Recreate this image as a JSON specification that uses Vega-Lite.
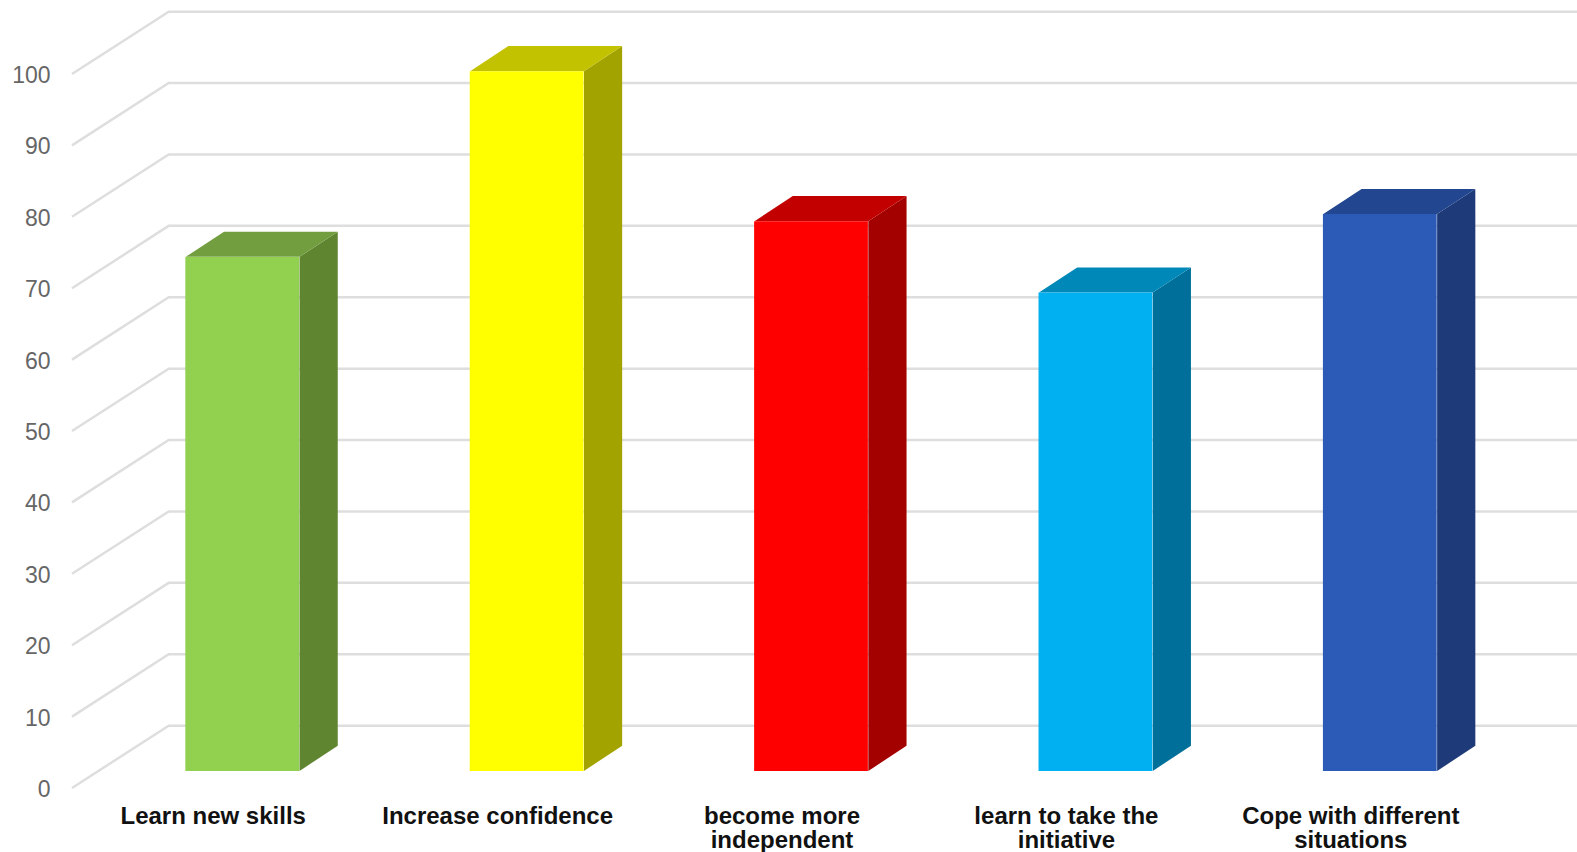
{"$schema":"https://vega.github.io/schema/vega-lite/v6.json","width":1422,"height":714,"autosize":{"type":"none"},"padding":{"left":72,"top":74,"right":83,"bottom":64},"background":"white","config":{"view":{"stroke":null}},
"datasets":{
"bars":[{"category":"Learn new skills","value":72},{"category":"Increase confidence","value":98},{"category":"become more independent","value":77},{"category":"learn to take the initiative","value":67},{"category":"Cope with different situations","value":78}],
"wall":[{"level":0,"pos":0,"height":0},{"level":0,"pos":0.34,"height":8.73},{"level":0,"pos":5.3,"height":8.73},{"level":10,"pos":0,"height":10},{"level":10,"pos":0.34,"height":18.73},{"level":10,"pos":5.3,"height":18.73},{"level":20,"pos":0,"height":20},{"level":20,"pos":0.34,"height":28.73},{"level":20,"pos":5.3,"height":28.73},{"level":30,"pos":0,"height":30},{"level":30,"pos":0.34,"height":38.73},{"level":30,"pos":5.3,"height":38.73},{"level":40,"pos":0,"height":40},{"level":40,"pos":0.34,"height":48.73},{"level":40,"pos":5.3,"height":48.73},{"level":50,"pos":0,"height":50},{"level":50,"pos":0.34,"height":58.73},{"level":50,"pos":5.3,"height":58.73},{"level":60,"pos":0,"height":60},{"level":60,"pos":0.34,"height":68.73},{"level":60,"pos":5.3,"height":68.73},{"level":70,"pos":0,"height":70},{"level":70,"pos":0.34,"height":78.73},{"level":70,"pos":5.3,"height":78.73},{"level":80,"pos":0,"height":80},{"level":80,"pos":0.34,"height":88.73},{"level":80,"pos":5.3,"height":88.73},{"level":90,"pos":0,"height":90},{"level":90,"pos":0.34,"height":98.73},{"level":90,"pos":5.3,"height":98.73},{"level":100,"pos":0,"height":100},{"level":100,"pos":0.34,"height":108.73},{"level":100,"pos":5.3,"height":108.73}],
"faces":[
{"face":"a side","pos":0.8,"upper":74.39,"lower":2.39},{"face":"a side","pos":0.9344,"upper":77.91,"lower":5.91},
{"face":"a top","pos":0.4,"upper":74.39,"lower":74.39},{"face":"a top","pos":0.5344,"upper":77.91,"lower":74.39},{"face":"a top","pos":0.8,"upper":77.91,"lower":74.39},{"face":"a top","pos":0.9344,"upper":77.91,"lower":77.91},
{"face":"b side","pos":1.8,"upper":100.39,"lower":2.39},{"face":"b side","pos":1.9344,"upper":103.91,"lower":5.91},
{"face":"b top","pos":1.4,"upper":100.39,"lower":100.39},{"face":"b top","pos":1.5344,"upper":103.91,"lower":100.39},{"face":"b top","pos":1.8,"upper":103.91,"lower":100.39},{"face":"b top","pos":1.9344,"upper":103.91,"lower":103.91},
{"face":"c side","pos":2.8,"upper":79.39,"lower":2.39},{"face":"c side","pos":2.9344,"upper":82.91,"lower":5.91},
{"face":"c top","pos":2.4,"upper":79.39,"lower":79.39},{"face":"c top","pos":2.5344,"upper":82.91,"lower":79.39},{"face":"c top","pos":2.8,"upper":82.91,"lower":79.39},{"face":"c top","pos":2.9344,"upper":82.91,"lower":82.91},
{"face":"d side","pos":3.8,"upper":69.39,"lower":2.39},{"face":"d side","pos":3.9344,"upper":72.91,"lower":5.91},
{"face":"d top","pos":3.4,"upper":69.39,"lower":69.39},{"face":"d top","pos":3.5344,"upper":72.91,"lower":69.39},{"face":"d top","pos":3.8,"upper":72.91,"lower":69.39},{"face":"d top","pos":3.9344,"upper":72.91,"lower":72.91},
{"face":"e side","pos":4.8,"upper":80.39,"lower":2.39},{"face":"e side","pos":4.9344,"upper":83.91,"lower":5.91},
{"face":"e top","pos":4.4,"upper":80.39,"lower":80.39},{"face":"e top","pos":4.5344,"upper":83.91,"lower":80.39},{"face":"e top","pos":4.8,"upper":83.91,"lower":80.39},{"face":"e top","pos":4.9344,"upper":83.91,"lower":83.91}
]},
"layer":[
{"data":{"name":"wall"},"mark":{"type":"line","color":"#dedede","strokeWidth":2.5,"interpolate":"linear"},"encoding":{"x":{"field":"pos","type":"quantitative","scale":{"domain":[0,5],"nice":false,"zero":false},"axis":null},"y":{"field":"height","type":"quantitative","scale":{"domain":[0,100],"nice":false},"axis":{"title":null,"values":[0,10,20,30,40,50,60,70,80,90,100],"domain":false,"ticks":false,"grid":false,"labelFont":"Liberation Sans","labelFontSize":23,"labelColor":"#666666","labelPadding":22,"labelOffset":1.5}},"detail":{"field":"level"}}},
{"data":{"name":"faces"},"mark":{"type":"area","interpolate":"linear","line":false},"encoding":{"x":{"field":"pos","type":"quantitative","scale":{"domain":[0,5],"nice":false,"zero":false},"axis":null},"y":{"field":"upper","type":"quantitative"},"y2":{"field":"lower"},"color":{"field":"face","type":"nominal","legend":null,"scale":{"domain":["a side","a top","b side","b top","c side","c top","d side","d top","e side","e top"],"range":["#5F8530","#729E3F","#A3A300","#C2C200","#A30000","#C20000","#006F9A","#0088B8","#1E3A78","#22468F"]}}}},
{"data":{"name":"bars"},"mark":{"type":"bar","xOffset":28,"x2Offset":28,"yOffset":-17,"y2Offset":-17},"encoding":{"x":{"field":"category","type":"nominal","sort":null,"scale":{"paddingInner":0.6,"paddingOuter":0.3},"axis":{"title":null,"domain":false,"ticks":false,"grid":false,"labelAngle":0,"labelFont":"Liberation Sans","labelFontWeight":"bold","labelFontSize":24,"labelColor":"#111111","labelPadding":16,"labelOffset":-1,"labelLineHeight":24,"labelLimit":400,"labelExpr":"datum.label=='become more independent'?['become more','independent']:datum.label=='learn to take the initiative'?['learn to take the','initiative']:datum.label=='Cope with different situations'?['Cope with different','situations']:datum.label"}},"y":{"field":"value","type":"quantitative"},"color":{"field":"category","type":"nominal","legend":null,"sort":null,"scale":{"domain":["Learn new skills","Increase confidence","become more independent","learn to take the initiative","Cope with different situations"],"range":["#92D050","#FFFF00","#FF0000","#00B0F0","#2B5BB7"]}}}}
],
"resolve":{"scale":{"x":"independent","color":"independent"},"axis":{"x":"independent"}}}
